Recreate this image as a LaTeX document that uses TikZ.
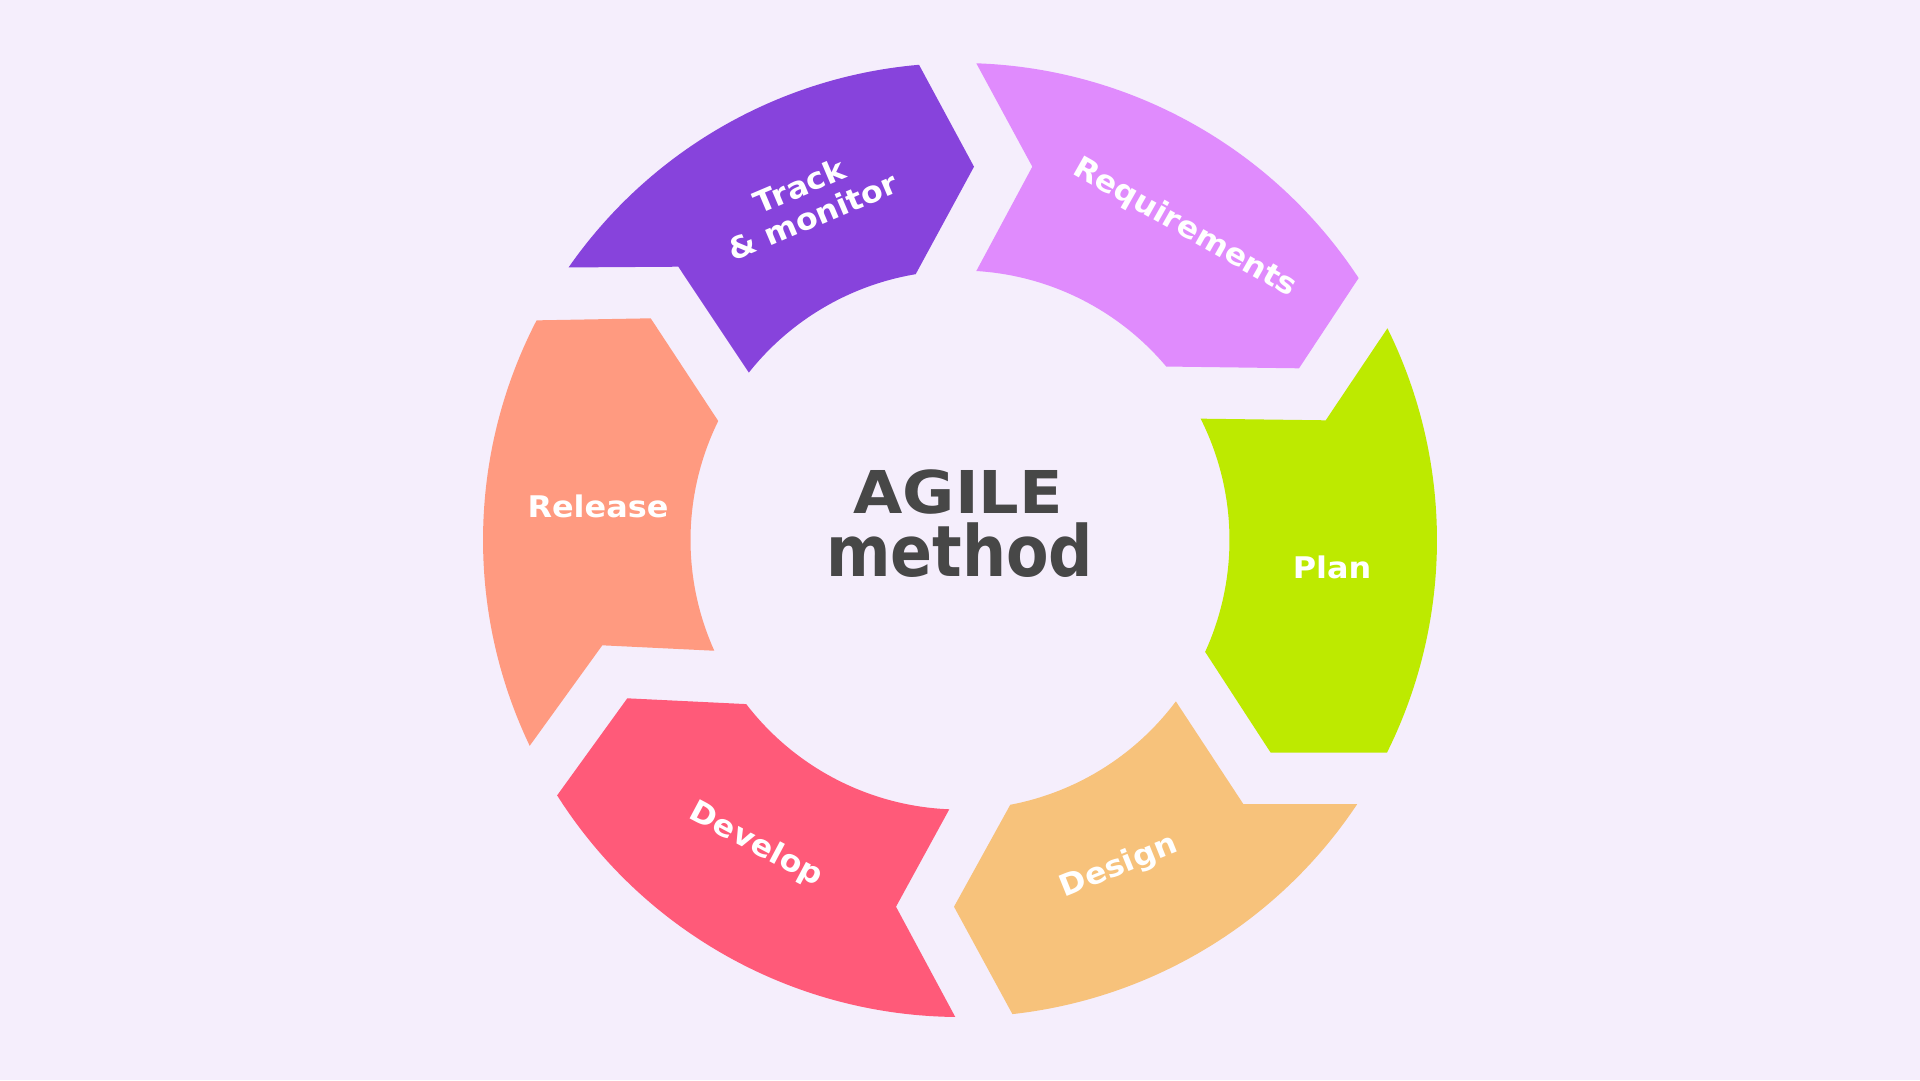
\documentclass[tikz,border=0pt]{standalone}
\usepackage{fontspec}
\setmainfont{DejaVu Sans}
\usepackage{graphicx}
\definecolor{bgcol}{HTML}{F5EEFC}
\definecolor{trackcol}{HTML}{8743DC}
\definecolor{reqcol}{HTML}{E08BFD}
\definecolor{plancol}{HTML}{BDEA00}
\definecolor{designcol}{HTML}{F7C27B}
\definecolor{devcol}{HTML}{FF5A79}
\definecolor{relcol}{HTML}{FF9A80}
\definecolor{textcol}{HTML}{474747}
\newcommand\lblfont{\fontsize{29.8}{33.5}\selectfont\bfseries}
\newcommand\wide[1]{\scalebox{1.07}[1]{#1}}
\tikzset{
  lbl/.style={text=white, font=\lblfont, inner sep=0pt, align=center},
  ctr/.style={text=textcol, font=\fontsize{59}{60}\selectfont\bfseries, inner sep=0pt, anchor=base}
}
\begin{document}
\begin{tikzpicture}[x=1pt,y=-1pt]
\fill[bgcol] (0,0) rectangle (1920,1080);
\useasboundingbox (0,0) rectangle (1920,1080);

% Track & monitor
\fill[trackcol] ([shift={(-145.15:477)}]960,540) arc[start angle=-145.15, end angle=-94.93, radius=477]
  -- (974,166.7) -- ([shift={(-99.47:269.5)}]960,540) arc[start angle=-99.47, end angle=-141.59, radius=269.5]
  -- (678.3,266.7) -- cycle;
% Requirements
\fill[reqcol] ([shift={(-88.04:477)}]960,540) arc[start angle=-88.04, end angle=-33.31, radius=477]
  -- (1299,368.3) -- ([shift={(-40.07:269.5)}]960,540) arc[start angle=-40.07, end angle=-86.53, radius=269.5]
  -- (1032.3,166.7) -- cycle;
% Plan
\fill[plancol] ([shift={(-26.35:477)}]960,540) arc[start angle=-26.35, end angle=26.46, radius=477]
  -- (1270.7,752.7) -- ([shift={(24.53:269.5)}]960,540) arc[start angle=24.53, end angle=-26.76, radius=269.5]
  -- (1325.7,420.3) -- cycle;
% Design
\fill[designcol] ([shift={(33.64:477)}]960,540) arc[start angle=33.64, end angle=83.69, radius=477]
  -- (954,906.7) -- ([shift={(79.25:269.5)}]960,540) arc[start angle=79.25, end angle=36.78, radius=269.5]
  -- (1243.3,804) -- cycle;
% Develop
\fill[devcol] ([shift={(90.57:477)}]960,540) arc[start angle=90.57, end angle=147.63, radius=477]
  -- (627.3,698.3) -- ([shift={(142.49:269.5)}]960,540) arc[start angle=142.49, end angle=92.28, radius=269.5]
  -- (896,906.7) -- cycle;
% Release
\fill[relcol] ([shift={(154.44:477)}]960,540) arc[start angle=154.44, end angle=207.42, radius=477]
  -- (650.7,318.3) -- ([shift={(206.21:269.5)}]960,540) arc[start angle=206.21, end angle=155.74, radius=269.5]
  -- (602.3,645.3) -- cycle;

% labels
\node[lbl, rotate=23] (track) at (806,201) {\wide{Track}\\\wide{\& monitor}};
\node[lbl, rotate=-29.5] (req) at (1185,228) {\wide{Requirements}};
\node[lbl] (plan) at (1332,567) {\wide{Plan}};
\node[lbl, rotate=22] (design) at (1119,867) {\wide{Design}};
\node[lbl, rotate=-28] (develop) at (756,845) {\wide{Develop}};
\node[lbl] (release) at (598,506) {\wide{Release}};

% centre
\node[ctr] (agile) at (958.3,513.3) {\scalebox{1.08}[1]{AGILE}};
\node[ctr] (method) at (959.7,576.7) {\scalebox{1.05}[1.2]{method}};
\end{tikzpicture}
\end{document}
